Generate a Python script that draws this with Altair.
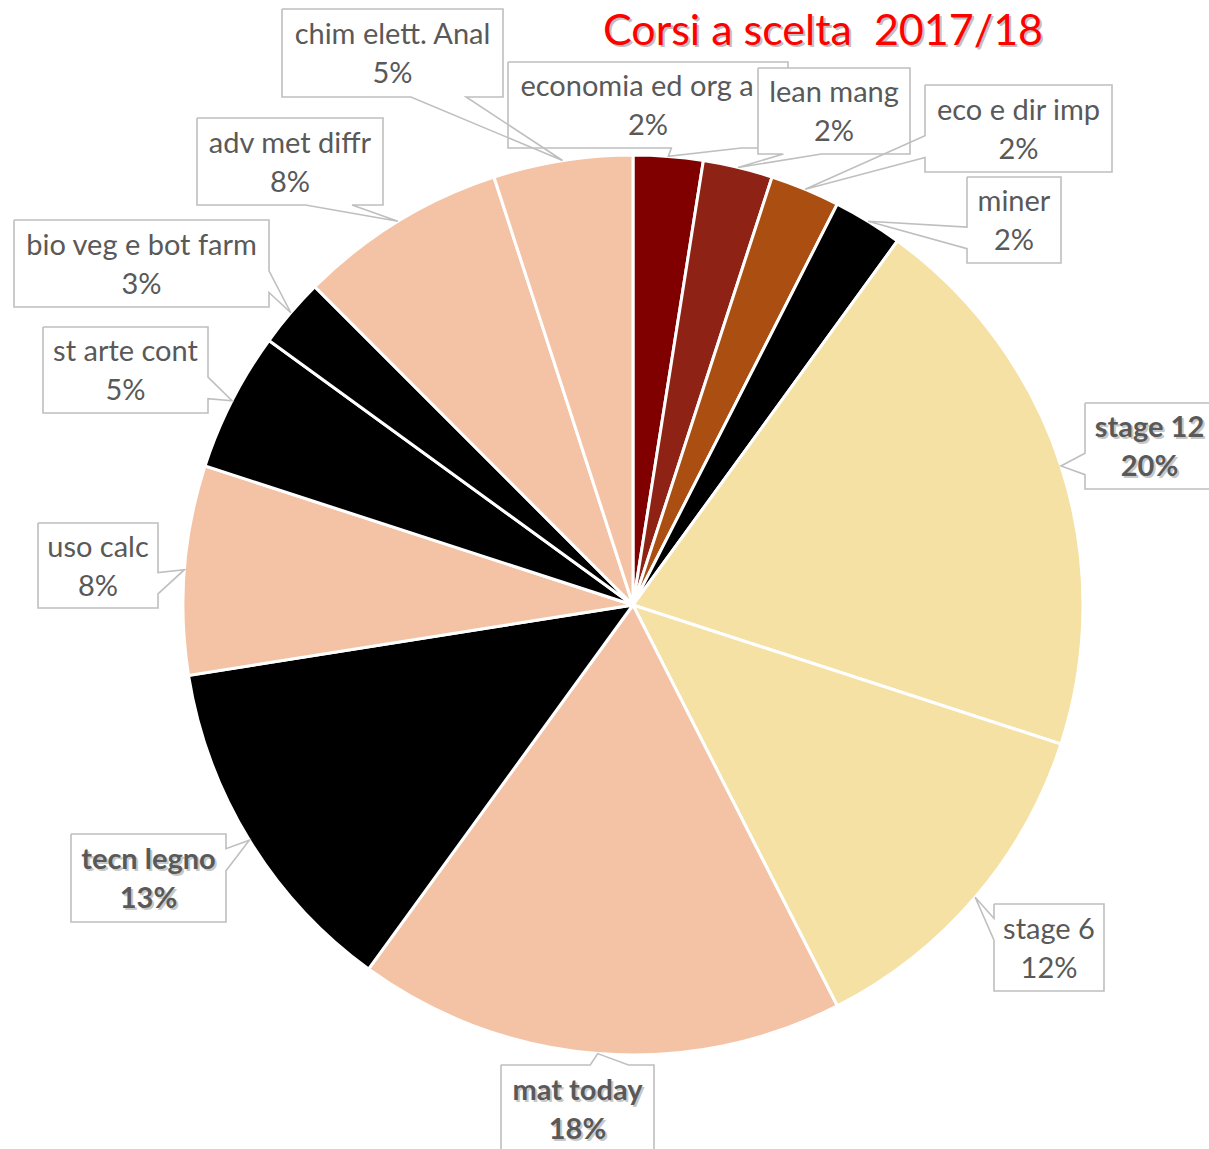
import math
import altair as alt
import pandas as pd

# ---------------- data ----------------
names = ["economia ed org a", "lean mang", "eco e dir imp", "miner", "stage 12",
         "stage 6", "mat today", "tecn legno", "uso calc", "st arte cont",
         "bio veg e bot farm", "adv met diffr", "chim elett. Anal"]
values = [2.5, 2.5, 2.5, 2.5, 20, 12.5, 17.5, 12.5, 7.5, 5, 2.5, 7.5, 5]
pct_labels = ["2%", "2%", "2%", "2%", "20%", "12%", "18%", "13%", "8%", "5%", "3%", "8%", "5%"]
bold_flags = [False, False, False, False, True, False, True, True, False, False, False, False, False]
title_text = "Corsi a scelta \u00a02017/18"

# ---------------- styles / layout ----------------
slice_colors = ["#800000", "#8E2214", "#AB4E12", "#000000", "#F5E1A4", "#F5E1A4",
                "#F4C3A5", "#000000", "#F4C3A5", "#000000", "#000000", "#F4C3A5", "#F4C3A5"]
# callout boxes (left, top, right, bottom) in pixels
boxes = [(508, 62, 788, 148), (758, 68, 910, 154), (925, 85, 1112, 172), (967, 177, 1061, 263),
         (1085, 403, 1214, 489), (994, 904, 1104, 991), (501, 1065, 654, 1152), (71, 834, 226, 922),
         (38, 523, 158, 608), (43, 327, 208, 413), (14, 220, 269, 307), (197, 118, 383, 205),
         (282, 9, 503, 97)]
name_dx = [-11, 0, 0, 0, 0, 0, 0, 0, 0, 0, 0, 0, 0]

W, H = 1209, 1149
CX, CY, R = 633, 605, 450
FONT = "Lato"
FS = 29
TXT = "#595959"
EDGE = "#BFBFBF"

n = len(values)
total = sum(values)
mids = []
acc = 0.0
for v in values:
    mids.append((acc + v / 2) / total * 2 * math.pi)
    acc += v

xs = alt.Scale(domain=[0, W], range=[0, W])
ys = alt.Scale(domain=[0, H], range=[0, H])

pie_df = pd.DataFrame({"idx": list(range(n)), "name": names, "value": values})
pie = alt.Chart(pie_df).mark_arc(outerRadius=R, stroke="white", strokeWidth=3).encode(
    theta=alt.Theta("value:Q", stack=True),
    color=alt.Color("name:N", scale=alt.Scale(domain=names, range=slice_colors), legend=None),
    order=alt.Order("idx:Q", sort="ascending"),
    x=alt.value(CX), y=alt.value(CY),
)


def callout_points(box, tip):
    x0, y0, x1, y1 = box
    cx, cy = (x0 + x1) / 2, (y0 + y1) / 2
    w, h = x1 - x0, y1 - y0
    tx, ty = tip
    dx, dy = (tx - cx) / w, (ty - cy) / h
    if abs(dx) > abs(dy):
        side = "left" if dx < 0 else "right"
        f = (7 / 12, 10 / 12) if ty > cy else (2 / 12, 5 / 12)
        ya, yb = y0 + f[0] * h, y0 + f[1] * h
    else:
        side = "top" if dy < 0 else "bottom"
        f = (7 / 12, 10 / 12) if tx > cx else (2 / 12, 5 / 12)
        xa, xb = x0 + f[0] * w, x0 + f[1] * w
    pts = [(x0, y0)]
    if side == "top":
        pts += [(xa, y0), (tx, ty), (xb, y0)]
    pts.append((x1, y0))
    if side == "right":
        pts += [(x1, ya), (tx, ty), (x1, yb)]
    pts.append((x1, y1))
    if side == "bottom":
        pts += [(xb, y1), (tx, ty), (xa, y1)]
    pts.append((x0, y1))
    if side == "left":
        pts += [(x0, yb), (tx, ty), (x0, ya)]
    pts.append((x0, y0))
    return pts


layers = [pie]
for i in range(n):
    x0, y0, x1, y1 = boxes[i]
    tip = (CX + R * math.sin(mids[i]), CY - R * math.cos(mids[i]))
    rect_df = pd.DataFrame({"x0": [x0], "x1": [x1], "y0": [y0], "y1": [y1]})
    rect = alt.Chart(rect_df).mark_rect(fill="white", strokeWidth=0).encode(
        x=alt.X("x0:Q", scale=xs, axis=None), x2="x1:Q",
        y=alt.Y("y0:Q", scale=ys, axis=None), y2="y1:Q",
    )
    pts = callout_points(boxes[i], tip)
    line_df = pd.DataFrame({"k": list(range(len(pts))),
                            "px": [p[0] for p in pts], "py": [p[1] for p in pts]})
    outline = alt.Chart(line_df).mark_line(color=EDGE, strokeWidth=1.6, strokeJoin="miter").encode(
        x=alt.X("px:Q", scale=xs, axis=None),
        y=alt.Y("py:Q", scale=ys, axis=None),
        order="k:Q",
    )
    cx, cy = (x0 + x1) / 2, (y0 + y1) / 2
    txt_df = pd.DataFrame({"tx": [cx + name_dx[i], cx], "ty": [cy - 18, cy + 21],
                           "t": [names[i], pct_labels[i]]})
    layers += [rect, outline]
    weight = "bold" if bold_flags[i] else "normal"
    if bold_flags[i]:
        sh_df = txt_df.assign(tx=txt_df.tx + 2, ty=txt_df.ty + 2)
        shadow = alt.Chart(sh_df).mark_text(font=FONT, fontSize=FS, fontWeight=weight,
                                            color="#C8C8C8", baseline="middle", align="center").encode(
            x=alt.X("tx:Q", scale=xs, axis=None), y=alt.Y("ty:Q", scale=ys, axis=None), text="t:N")
        layers.append(shadow)
    text = alt.Chart(txt_df).mark_text(font=FONT, fontSize=FS, fontWeight=weight,
                                       color=TXT, baseline="middle", align="center").encode(
        x=alt.X("tx:Q", scale=xs, axis=None), y=alt.Y("ty:Q", scale=ys, axis=None), text="t:N")
    layers.append(text)

title_df = pd.DataFrame({"t": [title_text]})
title_shadow = alt.Chart(title_df).mark_text(font=FONT, fontSize=43, color="#C0C0C0",
                                             baseline="alphabetic", align="center").encode(
    text="t:N", x=alt.value(825), y=alt.value(47))
title = alt.Chart(title_df).mark_text(font=FONT, fontSize=43, color="#FF0000",
                                      baseline="alphabetic", align="center").encode(
    text="t:N", x=alt.value(823), y=alt.value(45))
layers += [title_shadow, title]

chart = alt.layer(*layers).properties(
    width=W, height=H, padding=0, autosize=alt.AutoSizeParams(type="none"),
    background="white",
).configure_view(stroke=None)

chart.save("out.html", embed_options={"renderer": "svg", "actions": False})
